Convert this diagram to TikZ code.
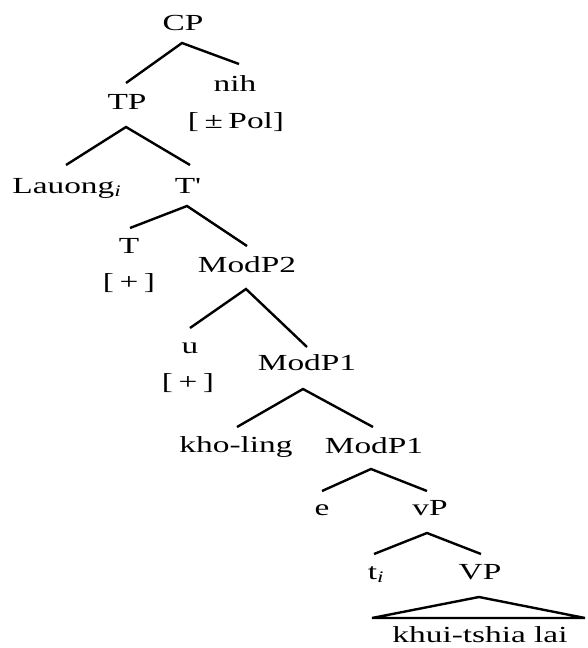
\documentclass[tikz,border=0pt]{standalone}
\usepackage{fontspec}
\usepackage{graphicx}
\setmainfont{Liberation Serif}
% labels are set in a horizontally widened serif
\newcommand{\wide}[1]{\scalebox{1.45}[1]{#1}}
\newcommand{\idx}{\textsubscript{\itshape i}}
\begin{document}
\begin{tikzpicture}[x=1pt,y=-1pt,
  lbl/.style={anchor=base,inner sep=0pt,font=\fontsize{23}{26}\selectfont},
  branch/.style={line width=2.4pt,line cap=butt,line join=miter}]
\useasboundingbox (0,0) rectangle (588,648);

% labels
\node[lbl] (cp)    at (183,30)  {\wide{CP}};
\node[lbl] (nih)   at (235,91)  {\wide{nih}};
\node[lbl] (pol)   at (236,128) {\wide{[\,±\,Pol]}};
\node[lbl] (tp)    at (127,109) {\wide{TP}};
\node[lbl] (lau)   at (67,193)  {\wide{Lauong\idx}};
\node[lbl] (tbar)  at (188,193) {\wide{T\textquotesingle}};
\node[lbl] (t)     at (129,253) {\wide{T}};
\node[lbl] (tplus) at (129,289) {\wide{[\,+\,]}};
\node[lbl] (mod2)  at (247,272) {\wide{ModP2}};
\node[lbl] (u)     at (190,353) {\wide{u}};
\node[lbl] (uplus) at (188,389) {\wide{[\,+\,]}};
\node[lbl] (mod1a) at (307,370) {\wide{ModP1}};
\node[lbl] (kho)   at (236,452) {\wide{kho-ling}};
\node[lbl] (mod1b) at (374,453) {\wide{ModP1}};
\node[lbl] (e)     at (322,515) {\wide{e}};
\node[lbl] (vp)    at (430,515) {\wide{vP}};
\node[lbl] (ti)    at (376,579) {\wide{t\idx}};
\node[lbl] (VP)    at (480,579) {\wide{VP}};
\node[lbl] (khui)  at (480,642) {\wide{khui-tshia lai}};

% branch points
\coordinate (cp-a) at (182,43);  \coordinate (cp-l) at (126,83);  \coordinate (cp-r) at (239,64);
\coordinate (tp-a) at (126,127); \coordinate (tp-l) at (66,165);  \coordinate (tp-r) at (190,165);
\coordinate (tb-a) at (187,206); \coordinate (tb-l) at (130,228); \coordinate (tb-r) at (247,246);
\coordinate (m2-a) at (246,289); \coordinate (m2-l) at (190,328); \coordinate (m2-r) at (307,347);
\coordinate (ma-a) at (303,389); \coordinate (ma-l) at (237,427); \coordinate (ma-r) at (373,427);
\coordinate (mb-a) at (371,469); \coordinate (mb-l) at (322,491); \coordinate (mb-r) at (427,491);
\coordinate (vp-a) at (427,533); \coordinate (vp-l) at (374,554); \coordinate (vp-r) at (481,554);
\coordinate (VP-a) at (479,597); \coordinate (VP-l) at (372,618); \coordinate (VP-r) at (585,618);

% branches
\draw[branch] (cp-l) -- (cp-a) -- (cp-r);
\draw[branch] (tp-l) -- (tp-a) -- (tp-r);
\draw[branch] (tb-l) -- (tb-a) -- (tb-r);
\draw[branch] (m2-l) -- (m2-a) -- (m2-r);
\draw[branch] (ma-l) -- (ma-a) -- (ma-r);
\draw[branch] (mb-l) -- (mb-a) -- (mb-r);
\draw[branch] (vp-l) -- (vp-a) -- (vp-r);
\draw[branch] (VP-a) -- (VP-l) -- (VP-r) -- cycle;
\end{tikzpicture}
\end{document}
